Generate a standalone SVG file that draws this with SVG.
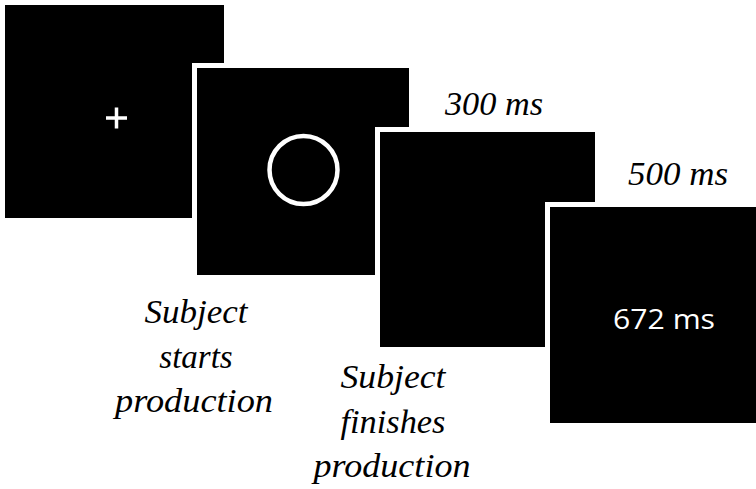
<svg xmlns="http://www.w3.org/2000/svg" width="756" height="489" viewBox="0 0 756 489">
  <style>
    .frame { fill: #ffffff; }
    .screen { fill: #000000; }
    .stim { fill: none; stroke: #ffffff; }
    .label { font-family: 'Liberation Serif', 'Times New Roman', serif; font-style: italic; font-size: 33px; fill: #000000; text-anchor: middle; }
    .rt { font-family: 'Open Sans', sans-serif; font-size: 28px; fill: #ffffff; text-anchor: middle; }
  </style>
  <rect width="756" height="489" fill="#ffffff"/>

  <!-- Screen 1: fixation cross -->
  <g id="screen-fixation">
    <rect class="screen" x="5" y="5" width="219" height="213"/>
    <path class="stim" stroke-width="3.5" d="M106 118H127M116.5 107.5V128.5"/>
  </g>

  <!-- Screen 2: circle cue -->
  <g id="screen-cue">
    <rect class="frame" x="192" y="63" width="222" height="217"/>
    <rect class="screen" x="197" y="68" width="212" height="207"/>
    <circle class="stim" cx="303.5" cy="170" r="34" stroke-width="4.5"/>
  </g>

  <!-- Screen 3: blank -->
  <g id="screen-blank">
    <rect class="frame" x="375" y="127" width="225" height="225"/>
    <rect class="screen" x="380" y="132" width="215" height="215"/>
  </g>

  <!-- Screen 4: response time feedback -->
  <g id="screen-feedback">
    <rect class="frame" x="545" y="202" width="216" height="226"/>
    <rect class="screen" x="550" y="207" width="210" height="216"/>
    <text class="rt" x="664" y="329" textLength="102" lengthAdjust="spacingAndGlyphs">672 ms</text>
  </g>

  <!-- Timing and event labels -->
  <g id="labels">
    <text class="label" x="494" y="115" textLength="98" lengthAdjust="spacingAndGlyphs">300 ms</text>
    <text class="label" x="678" y="185" textLength="100" lengthAdjust="spacingAndGlyphs">500 ms</text>
    <text class="label" x="196" y="323" textLength="103" lengthAdjust="spacingAndGlyphs">Subject</text>
    <text class="label" x="196" y="368">starts</text>
    <text class="label" x="194" y="412" textLength="158" lengthAdjust="spacingAndGlyphs">production</text>
    <text class="label" x="393" y="388" textLength="105" lengthAdjust="spacingAndGlyphs">Subject</text>
    <text class="label" x="393" y="433" textLength="105" lengthAdjust="spacingAndGlyphs">finishes</text>
    <text class="label" x="392" y="477" textLength="157" lengthAdjust="spacingAndGlyphs">production</text>
  </g>
</svg>
